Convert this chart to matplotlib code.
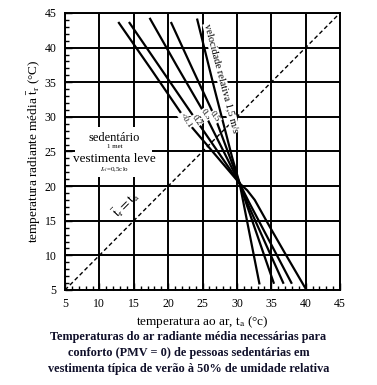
import matplotlib
matplotlib.use("Agg")
import matplotlib.pyplot as plt
from matplotlib.patches import Rectangle

plt.rcParams['font.family'] = ['Liberation Serif', 'DejaVu Serif']
plt.rcParams['mathtext.fontset'] = 'stix'

# ---- data (air temperature ta, mean radiant temperature tr) ----
vel_labels = ['<0.1', '0.2', '0.3', '0.5']
v01_ta = [12.75, 17.65, 22.6, 30.4, 31.5, 32.6, 34.8, 37.0, 40.0]
v01_tr = [43.7, 36.7, 29.5, 20.4, 19.4, 18.0, 14.1, 10.3, 5.2]
v02_ta = [14.3, 19.2, 24.1, 30.4, 31.7, 38.0]
v02_tr = [43.7, 36.6, 29.5, 20.4, 17.8, 5.9]
v03_ta = [17.3, 21.3, 25.4, 30.4, 31.5, 36.8]
v03_tr = [44.3, 37.3, 30.3, 20.4, 17.6, 5.9]
v05_ta = [20.4, 23.6, 26.8, 30.4, 31.4, 35.4]
v05_tr = [43.7, 36.8, 30.0, 20.4, 17.4, 5.9]
v15_ta = [24.2, 26.7, 29.3, 30.4, 33.3]
v15_tr = [44.2, 34.2, 24.2, 20.4, 5.8]
equal_line = [5, 45]
ticks = [5, 10, 15, 20, 25, 30, 35, 40, 45]

fig = plt.figure(figsize=(3.77, 3.85), dpi=100)
ax = fig.add_axes([65/377, 1-290/385, 275/377, 277/385])
ax.set_xlim(5, 45)
ax.set_ylim(5, 45)
ax.set_xticks(ticks)
ax.set_yticks(ticks)
ax.set_xticks(range(5, 46), minor=True)
ax.set_yticks(range(5, 46), minor=True)
ax.tick_params(which='both', direction='in', top=False, right=False,
               labelsize=8.5, width=1.0, colors='black')
ax.tick_params(which='major', length=5, pad=6)
ax.tick_params(which='minor', length=3)
for s in ax.spines.values():
    s.set_linewidth(1.4)
ax.grid(True, which='major', color='black', linewidth=1.4, zorder=0)
ax.set_axisbelow(True)

# white box behind the condition text
ax.add_patch(Rectangle((6.4, 21.3), 11.2, 7.2, facecolor='white',
                       edgecolor='none', zorder=1.5))

# dashed tr = ta line
ax.plot(equal_line, equal_line, ls=(0, (3, 2)), color='black', lw=1.0, zorder=2)

for ta, tr in [(v01_ta, v01_tr), (v02_ta, v02_tr), (v03_ta, v03_tr),
               (v05_ta, v05_tr), (v15_ta, v15_tr)]:
    ax.plot(ta, tr, color='black', lw=1.6, zorder=2.5, solid_capstyle='butt')

bb = dict(facecolor='white', edgecolor='none', pad=0.6)
for lab, ta, tr in zip(vel_labels, [v01_ta, v02_ta, v03_ta, v05_ta],
                       [v01_tr, v02_tr, v03_tr, v05_tr]):
    ax.text(ta[2], tr[2], lab, rotation=-55, fontsize=6.5, ha='center',
            va='center', bbox=bb, zorder=3, rotation_mode='anchor')

ax.text(27.75, 35.6, 'velocidade relativa 1,5 m/s', rotation=-75.2,
        fontsize=7.5, ha='center', va='center', bbox=dict(facecolor='white',
        edgecolor='none', pad=0.3), zorder=3, rotation_mode='anchor')

ax.text(12.2, 26.9, 'sedentário', fontsize=9, ha='center', va='center', zorder=3)
ax.text(12.2, 25.75, '1 met', fontsize=5, ha='center', va='center', zorder=3)
ax.text(12.2, 23.85, 'vestimenta leve', fontsize=9.5, ha='center', va='center', zorder=3)
ax.text(12.2, 22.4, r'$I_{cl}$=0,5clo', fontsize=5, ha='center', va='center', zorder=3)

ax.text(13.9, 17.4, r'$\mathrm{\bar{t}_r = t_a}$', rotation=45, fontsize=9.5,
        ha='center', va='center', zorder=3, rotation_mode='anchor')

ax.set_xlabel(r'temperatura ao ar, t$_\mathrm{a}$ (°c)', fontsize=9.5, labelpad=3)
ax.set_ylabel(r'temperatura radiante média $\mathrm{\bar{t}_r}$ (°C)', fontsize=9.5,
              labelpad=1)

fig.text(0.5, 1 - 353/385,
         'Temperaturas do ar radiante média necessárias para\n'
         'conforto (PMV = 0) de pessoas sedentárias em\n'
         'vestimenta típica de verão à 50% de umidade relativa',
         ha='center', va='center', fontsize=8.8, fontweight='bold',
         color='#10102a', linespacing=1.45)
fig.savefig('out.png', dpi=100)
